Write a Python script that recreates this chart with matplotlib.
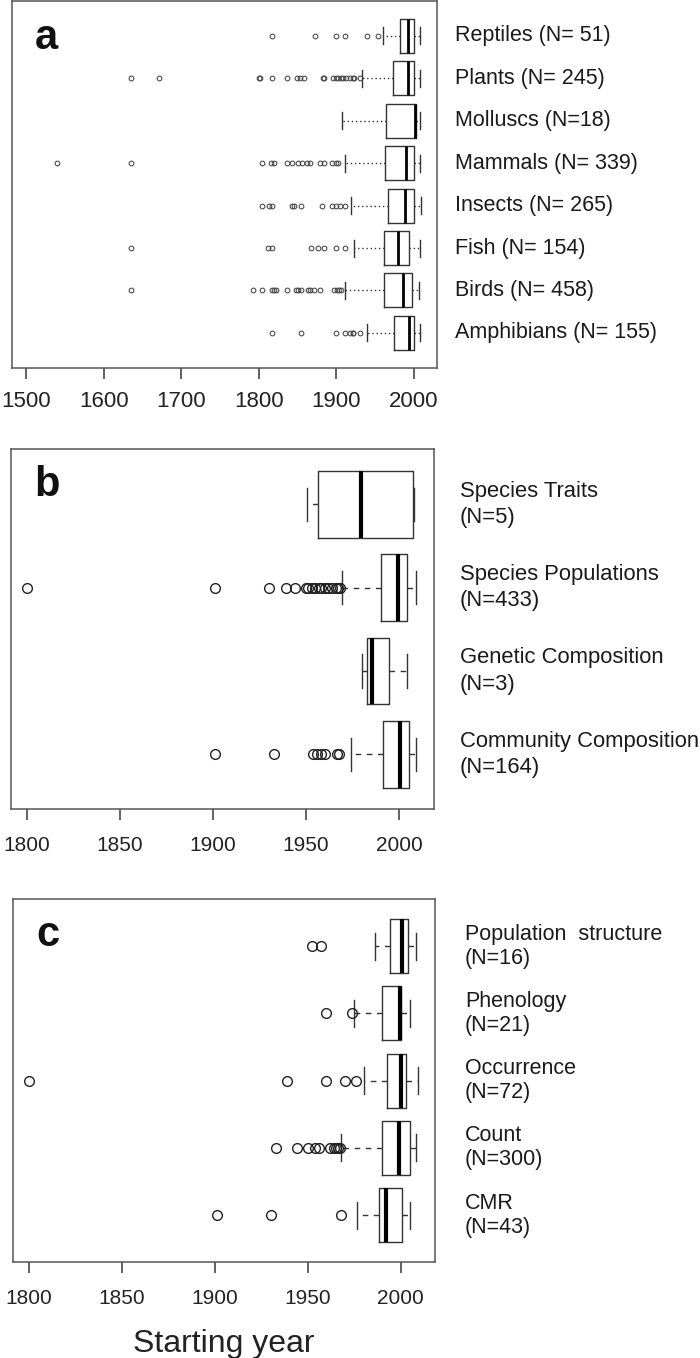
import matplotlib
matplotlib.use("Agg")
import matplotlib.pyplot as plt
from matplotlib.transforms import blended_transform_factory

plt.rcParams['font.family'] = ['Liberation Sans', 'DejaVu Sans']

# ---------------- Panel a data (bottom -> top) ----------------
a_labels = ["Amphibians (N= 155)", "Birds (N= 458)", "Fish (N= 154)", "Insects (N= 265)",
            "Mammals (N= 339)", "Molluscs (N=18)", "Plants (N= 245)", "Reptiles (N= 51)"]
a_q1 = [1974, 1962, 1962, 1966.4, 1963.4, 1964, 1972.8, 1982]
a_med = [1994.4, 1985.8, 1979.3, 1988.8, 1990, 2001.7, 1993, 1993]
a_q3 = [2000.4, 1998.3, 1994.4, 2000.4, 2000.4, 2003, 2000.4, 2000.4]
a_lo = [1940, 1911.2, 1923.3, 1919.4, 1911.2, 1907, 1932.8, 1960]
a_hi = [2007.8, 2006.9, 2007.8, 2009.5, 2007.8, 2007.8, 2007.8, 2007.8]
a_fliers = [
    [1817, 1855, 1900, 1911, 1918, 1921, 1922, 1930],
    [1635, 1793, 1804, 1817, 1820, 1822, 1836, 1848, 1850, 1855, 1864, 1866, 1871, 1879, 1897, 1901, 1903, 1906],
    [1635, 1812, 1817, 1867, 1876, 1884, 1900, 1911],
    [1804, 1813, 1817, 1843, 1846, 1855, 1881, 1895, 1900, 1905, 1911],
    [1539, 1635, 1804, 1816, 1819, 1836, 1843, 1850, 1856, 1862, 1866, 1879, 1884, 1894, 1900, 1902],
    [],
    [1635, 1671, 1800, 1802, 1817, 1836, 1849, 1853, 1858, 1883, 1884, 1896, 1899, 1902, 1906, 1909, 1912,
     1918, 1921, 1923, 1930],
    [1817, 1872, 1900, 1911, 1940, 1954],
]
a_ticks = [1500, 1600, 1700, 1800, 1900, 2000]

# ---------------- Panel b data (bottom -> top) ----------------
b_labels = ["Community Composition\n(N=164)", "Genetic Composition\n(N=3)",
            "Species Populations\n(N=433)", "Species Traits\n(N=5)"]
b_q1 = [1991.2, 1982.8, 1990.5, 1956.2]
b_med = [2000.4, 1985.3, 1999.3, 1979.4]
b_q3 = [2005.5, 1994.8, 2004.3, 2007.3]
b_lo = [1974.2, 1980.3, 1969.2, 1950.4]
b_hi = [2009.3, 2004.3, 2009.3, 2008.2]
b_fliers = [
    [1901, 1933, 1954, 1956, 1958, 1960, 1966.5, 1967.5],
    [],
    [1800, 1901, 1930, 1939, 1944, 1950, 1951, 1953, 1955, 1957, 1958, 1960, 1962, 1964, 1966, 1967, 1968],
    [],
]

# ---------------- Panel c data (bottom -> top) ----------------
c_labels = ["CMR\n(N=43)", "Count\n(N=300)", "Occurrence\n(N=72)", "Phenology\n(N=21)",
            "Population  structure\n(N=16)"]
c_q1 = [1988.4, 1990, 1992.8, 1990, 1994.1]
c_med = [1991.8, 1999.1, 2000, 1999.5, 2000.7]
c_q3 = [2000.7, 2005.2, 2003, 2000.2, 2004.1]
c_lo = [1976.2, 1967.9, 1980, 1974.9, 1986]
c_hi = [2005.2, 2008.1, 2009.1, 2005.2, 2008.1]
c_fliers = [
    [1901, 1930, 1968],
    [1933, 1944, 1950, 1954, 1956, 1962, 1964, 1965, 1966, 1967.5],
    [1800, 1939, 1960, 1970, 1976],
    [1960, 1974],
    [1952, 1957],
]
bc_ticks = [1800, 1850, 1900, 1950, 2000]

W, H = 700, 1358
fig = plt.figure(figsize=(W / 100, H / 100), dpi=100)

def ax_px(left, right, top, bottom):
    return fig.add_axes([left / W, 1 - bottom / H, (right - left) / W, (bottom - top) / H])

FRAME = '#555555'
BOXC = '#333333'

def draw(ax, q1, med, q3, lo, hi, fliers, labels, xlim, ticks, small, letter,
         label_x, label_fs, tick_fs, linesp, pad):
    stats = []
    for i in range(len(q1)):
        stats.append(dict(q1=q1[i], med=med[i], q3=q3[i], whislo=lo[i], whishi=hi[i],
                          fliers=fliers[i]))
    pos = list(range(1, len(q1) + 1))
    if small:
        wls = (0, (1, 2))
        fl = dict(marker='o', markersize=3.4, markerfacecolor='none',
                  markeredgecolor='#444444', markeredgewidth=0.75, linestyle='none')
        medw = 2.0
    else:
        wls = (0, (4, 4))
        fl = dict(marker='o', markersize=7, markerfacecolor='none',
                  markeredgecolor='#222222', markeredgewidth=1.0, linestyle='none')
        medw = 3.0
    ax.bxp(stats, positions=pos, orientation='horizontal', widths=0.8, capwidths=0.4,
           boxprops=dict(color=BOXC, linewidth=1.0),
           whiskerprops=dict(color=BOXC, linewidth=1.0, linestyle=wls),
           capprops=dict(color=BOXC, linewidth=1.0),
           medianprops=dict(color='black', linewidth=medw),
           flierprops=fl, showfliers=True, manage_ticks=False)
    n = len(q1)
    ax.set_ylim(0.5 - 0.04 * n, n + 0.5 + 0.04 * n)
    ax.set_xlim(*xlim)
    ax.set_xticks(ticks)
    ax.set_xticklabels([str(t) for t in ticks], fontsize=tick_fs, color='#222222')
    ax.set_yticks([])
    ax.tick_params(axis='x', direction='out', length=8, width=1.3, color='#555555', pad=pad)
    for s in ax.spines.values():
        s.set_color(FRAME)
        s.set_linewidth(1.1)
    tr = blended_transform_factory(ax.transAxes, ax.transData)
    for i, lab in enumerate(labels):
        ax.text(label_x, pos[i], lab, transform=tr, ha='left', va='center',
                fontsize=label_fs, color='#1a1a1a', linespacing=linesp, clip_on=False)
    ax.text(0.055, 0.955, letter, transform=ax.transAxes, ha='left', va='top',
            fontsize=30, fontweight='bold', color='#111111')

axa = ax_px(11.7, 437, 1, 367.7)
draw(axa, a_q1, a_med, a_q3, a_lo, a_hi, a_fliers, a_labels, (1481, 2030), a_ticks, True, 'a',
     (455.3 - 11.7) / (437 - 11.7), 15.5, 16, 1.1, 8.5)

axb = ax_px(11, 434, 449.3, 809.3)
draw(axb, b_q1, b_med, b_q3, b_lo, b_hi, b_fliers, b_labels, (1791.6, 2018.7), bc_ticks, False, 'b',
     (460 - 11) / (434 - 11), 15.8, 15, 1.34, 11)

axc = ax_px(12.7, 435, 899, 1262.3)
draw(axc, c_q1, c_med, c_q3, c_lo, c_hi, c_fliers, c_labels, (1791.3, 2018.4), bc_ticks, False, 'c',
     (465 - 12.7) / (435 - 12.7), 15.5, 15, 1.18, 11)
axc.set_xlabel('Starting year', fontsize=23, color='#222222', labelpad=15)

fig.savefig('out.png', dpi=100)
